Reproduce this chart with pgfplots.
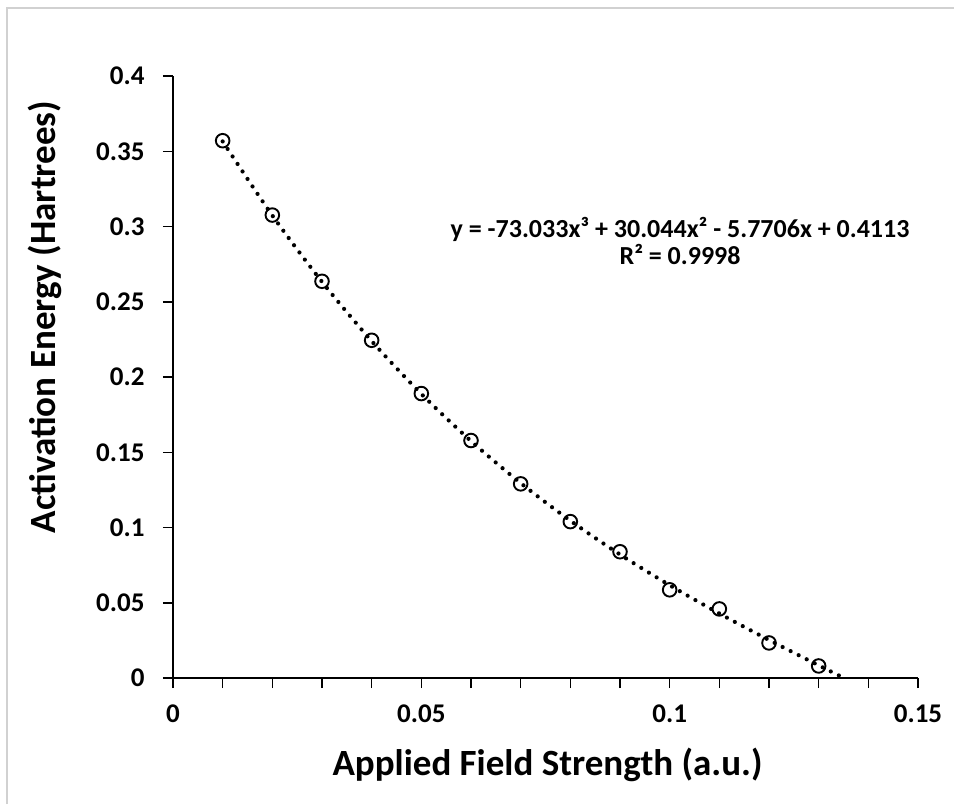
\documentclass[border=0pt]{standalone}
\usepackage{fontspec}
\setmainfont{Carlito}
\usepackage{pgfplots}
\pgfplotsset{compat=1.18}
\begin{document}
\begin{tikzpicture}[x=1pt,y=1pt]
\useasboundingbox (0,0) rectangle (954,804);
\draw[black!18, line width=1.5pt] (7,0) -- (7,796) -- (954,796);
\begin{axis}[
  at={(173pt,126pt)}, anchor=south west,
  width=745pt, height=602pt, scale only axis,
  xmin=0, xmax=0.15, ymin=0, ymax=0.4,
  axis x line*=bottom, axis y line*=left,
  axis line style={line width=1.5pt, -, black},
  xtick={0,0.05,0.1,0.15},
  minor xtick={0.01,0.02,0.03,0.04,0.06,0.07,0.08,0.09,0.11,0.12,0.13,0.14},
  ytick={0,0.05,0.1,0.15,0.2,0.25,0.3,0.35,0.4},
  tick align=outside, major tick length=10pt, minor tick length=10pt,
  every tick/.style={black, line width=1.5pt},
  ticklabel style={font=\fontsize{27}{30}\selectfont\bfseries},
  xticklabel style={yshift=-13pt},
  yticklabel style={xshift=-15pt},
  /pgf/number format/assume math mode=true,
  /pgf/number format/fixed, /pgf/number format/precision=2,
  scaled ticks=false,
  xlabel={Applied Field Strength (a.u.)},
  ylabel={Activation Energy (Hartrees)},
  label style={font=\fontsize{37}{44}\selectfont\bfseries},
  xlabel style={at={(axis description cs:0.5027,-0.1445)}, anchor=center},
  ylabel style={at={(axis description cs:-0.1718,0.5997)}, anchor=center},
  clip=false,
]
\addplot[black, line width=4.2pt, dash pattern=on 0pt off 9pt, line cap=round, smooth] coordinates {
(0.01,0.35653) (0.02,0.30732) (0.03,0.26325) (0.04,0.22387) (0.05,0.18875)
(0.06,0.15745) (0.07,0.12952) (0.08,0.10454) (0.09,0.08206) (0.10,0.06165)
(0.11,0.04286) (0.12,0.02526) (0.13,0.00841) (0.1351,0.0)
};
\addplot[only marks, mark=o, mark size=6.8pt, mark options={line width=1.9pt, black}] coordinates {
(0.01,0.357) (0.02,0.3076) (0.03,0.2636) (0.04,0.2244) (0.05,0.189)
(0.06,0.1578) (0.07,0.129) (0.08,0.1039) (0.09,0.0839) (0.10,0.0586)
(0.11,0.0459) (0.12,0.0233) (0.13,0.008)
};
\node[align=center, font=\fontsize{26}{27}\selectfont\bfseries] at (axis cs:0.1021,0.2903)
  {y = -73.033x³ + 30.044x² - 5.7706x + 0.4113\\R² = 0.9998};
\end{axis}
\end{tikzpicture}
\end{document}
